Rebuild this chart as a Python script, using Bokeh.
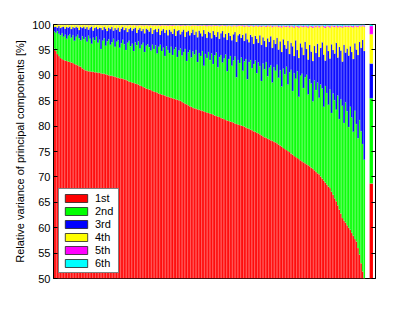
from bokeh.plotting import figure
from bokeh.models import Range1d, LinearAxis, FixedTicker, ColumnDataSource, Legend, LegendItem
from bokeh.embed import file_html
from bokeh.resources import INLINE
import numpy as np

# cumulative relative variance [%] after the 1st..5th principal component, per data set (sorted by 1st)
cum_1st = [95.3, 94.8, 94.2, 93.8, 93.4, 93.2, 93.0, 92.9, 92.8, 92.7,
           92.6, 92.5, 92.4, 92.2, 92.1, 92.0, 91.8, 91.7, 91.4, 91.2,
           91.0, 90.9, 90.8, 90.8, 90.7, 90.7, 90.6, 90.6, 90.5, 90.5,
           90.4, 90.3, 90.3, 90.2, 90.1, 90.0, 89.9, 89.9, 89.8, 89.7,
           89.6, 89.5, 89.4, 89.4, 89.3, 89.2, 89.1, 89.0, 88.8, 88.7,
           88.6, 88.5, 88.4, 88.3, 88.2, 88.0, 87.9, 87.7, 87.6, 87.4,
           87.3, 87.2, 87.1, 86.9, 86.8, 86.7, 86.6, 86.4, 86.3, 86.2,
           86.1, 86.0, 85.9, 85.8, 85.7, 85.6, 85.5, 85.4, 85.3, 85.2,
           85.1, 85.0, 84.8, 84.6, 84.4, 84.3, 84.1, 83.9, 83.8, 83.6,
           83.5, 83.4, 83.3, 83.2, 83.1, 83.0, 82.9, 82.8, 82.7, 82.6,
           82.5, 82.4, 82.3, 82.1, 82.0, 81.9, 81.8, 81.6, 81.5, 81.4,
           81.2, 81.1, 81.0, 80.9, 80.8, 80.7, 80.5, 80.4, 80.3, 80.2,
           80.1, 80.0, 79.9, 79.7, 79.6, 79.5, 79.3, 79.2, 79.0, 78.9,
           78.7, 78.6, 78.4, 78.2, 78.0, 77.8, 77.7, 77.5, 77.4, 77.2,
           77.1, 76.9, 76.8, 76.6, 76.4, 76.2, 76.0, 75.7, 75.5, 75.3,
           75.1, 74.9, 74.6, 74.4, 74.1, 73.9, 73.7, 73.5, 73.3, 73.1,
           72.9, 72.7, 72.5, 72.3, 72.1, 71.8, 71.6, 71.3, 71.0, 70.7,
           70.5, 70.1, 69.7, 69.3, 68.9, 68.5, 68.1, 67.8, 67.1, 66.5,
           65.8, 65.2, 64.4, 63.6, 62.8, 61.9, 61.4, 61.0, 60.5, 60.0,
           59.6, 59.0, 58.4, 57.8, 57.3, 56.0, 54.7, 53.0, 51.4, 49.5]

cum_2nd = [98.6, 98.4, 98.7, 98.2, 97.9, 98.3, 97.6, 98.0, 97.2, 97.8,
           98.1, 97.4, 97.9, 96.8, 97.6, 98.0, 97.3, 96.9, 97.7, 97.1,
           97.5, 96.6, 97.8, 97.2, 96.2, 97.4, 96.9, 97.6, 96.4, 97.0,
           95.2, 96.8, 97.3, 95.8, 96.7, 97.1, 96.0, 96.5, 97.2, 95.6,
           96.6, 96.9, 95.4, 96.3, 97.0, 96.1, 95.0, 96.4, 96.8, 95.7,
           96.2, 94.8, 96.5, 95.9, 96.7, 95.3, 96.0, 96.4, 94.6, 95.8,
           96.1, 95.5, 94.9, 96.0, 95.2, 95.9, 94.3, 95.6, 96.0, 94.8,
           95.4, 93.8, 95.7, 95.0, 94.4, 95.6, 94.0, 95.1, 95.5, 93.6,
           94.9, 95.3, 93.9, 94.6, 95.2, 92.8, 94.5, 95.0, 93.5, 94.7,
           94.1, 95.0, 92.6, 94.4, 93.8, 94.8, 91.9, 94.2, 93.4, 94.6,
           93.0, 94.3, 92.2, 93.9, 94.5, 91.6, 93.6, 94.0, 92.5, 93.3,
           94.1, 90.8, 93.2, 93.8, 91.9, 92.9, 93.7, 89.6, 93.0, 92.4,
           93.5, 90.9, 92.7, 93.2, 89.2, 92.6, 93.0, 91.4, 92.2, 92.9,
           90.4, 92.5, 91.8, 88.9, 92.3, 91.2, 92.6, 89.8, 91.5, 92.0,
           88.6, 91.6, 90.9, 92.1, 89.5, 91.0, 87.8, 91.3, 90.2, 91.7,
           88.2, 90.6, 91.1, 86.9, 90.4, 89.3, 90.8, 85.8, 89.9, 90.3,
           87.5, 89.6, 90.1, 86.2, 89.2, 88.4, 84.9, 89.0, 87.1, 88.6,
           85.6, 88.2, 87.4, 83.8, 87.9, 86.5, 84.2, 87.2, 82.6, 86.4,
           85.1, 83.2, 86.0, 81.4, 85.3, 84.0, 80.6, 84.7, 82.9, 79.8,
           83.8, 81.7, 78.9, 83.0, 80.4, 77.6, 81.2, 79.0, 76.5, 73.4]

cum_3rd = [99.5, 99.6, 99.4, 99.7, 99.3, 99.5, 99.6, 99.2, 99.5, 99.4,
           99.6, 99.1, 99.5, 99.3, 99.6, 99.4, 98.9, 99.5, 99.3, 99.6,
           99.2, 99.5, 99.0, 99.4, 99.6, 98.8, 99.3, 99.5, 99.1, 99.4,
           99.3, 98.9, 99.5, 99.2, 98.7, 99.4, 99.1, 99.5, 98.8, 99.3,
           99.0, 99.4, 98.6, 99.2, 99.5, 98.9, 99.3, 98.5, 99.1, 99.4,
           98.8, 99.2, 99.4, 98.4, 99.0, 99.3, 98.7, 99.1, 98.3, 99.2,
           99.0, 98.6, 99.3, 98.2, 98.9, 99.1, 98.5, 99.2, 98.0, 98.8,
           99.1, 98.4, 98.9, 97.9, 99.0, 98.6, 98.2, 99.1, 97.8, 98.7,
           98.9, 98.1, 98.6, 99.0, 97.6, 98.5, 98.8, 97.9, 98.4, 99.0,
           98.0, 98.6, 97.5, 98.8, 98.3, 97.7, 98.9, 98.2, 97.4, 98.6,
           98.4, 97.3, 98.7, 98.0, 97.6, 98.5, 97.2, 98.3, 98.7, 97.5,
           98.2, 97.0, 98.4, 97.8, 96.9, 98.1, 98.5, 96.6, 97.9, 98.2,
           97.4, 98.0, 96.8, 98.3, 97.1, 96.5, 98.0, 97.6, 96.2, 97.8,
           97.2, 96.4, 97.9, 96.0, 97.5, 96.8, 95.6, 97.3, 96.6, 97.7,
           95.4, 97.0, 96.2, 97.4, 95.1, 96.7, 94.6, 97.1, 96.0, 95.3,
           96.8, 94.2, 96.4, 95.7, 93.8, 96.9, 95.0, 93.4, 96.3, 95.5,
           94.0, 96.6, 95.2, 93.1, 96.0, 94.7, 92.8, 95.8, 94.4, 96.2,
           93.6, 95.4, 96.5, 94.1, 92.9, 95.9, 94.8, 93.3, 96.1, 95.0,
           94.3, 96.4, 93.5, 95.6, 94.9, 92.7, 96.0, 94.5, 95.3, 93.9,
           95.7, 94.6, 93.2, 96.3, 95.1, 94.0, 96.6, 95.4, 97.0, 94.8]

cum_4th = [99.93, 99.92, 99.94, 99.93, 99.91, 99.94, 99.92, 99.90, 99.93, 99.92,
           99.92, 99.89, 99.93, 99.91, 99.92, 99.90, 99.87, 99.92, 99.90, 99.93,
           99.89, 99.92, 99.86, 99.90, 99.92, 99.85, 99.90, 99.92, 99.88, 99.90,
           99.89, 99.85, 99.92, 99.88, 99.84, 99.90, 99.88, 99.92, 99.85, 99.89,
           99.88, 99.91, 99.83, 99.88, 99.90, 99.85, 99.89, 99.82, 99.88, 99.90,
           99.85, 99.89, 99.87, 99.80, 99.87, 99.89, 99.83, 99.87, 99.79, 99.88,
           99.87, 99.82, 99.88, 99.78, 99.84, 99.87, 99.80, 99.88, 99.76, 99.84,
           99.86, 99.79, 99.85, 99.75, 99.86, 99.82, 99.77, 99.86, 99.74, 99.83,
           99.83, 99.77, 99.82, 99.86, 99.72, 99.81, 99.83, 99.74, 99.80, 99.85,
           99.78, 99.84, 99.70, 99.82, 99.80, 99.72, 99.84, 99.77, 99.68, 99.81,
           99.80, 99.67, 99.83, 99.75, 99.70, 99.81, 99.66, 99.77, 99.83, 99.70,
           99.77, 99.64, 99.81, 99.73, 99.62, 99.79, 99.81, 99.60, 99.75, 99.79,
           99.71, 99.77, 99.58, 99.79, 99.68, 99.56, 99.76, 99.72, 99.54, 99.75,
           99.69, 99.55, 99.77, 99.52, 99.72, 99.65, 99.50, 99.75, 99.63, 99.76,
           99.48, 99.70, 99.60, 99.74, 99.46, 99.66, 99.42, 99.72, 99.58, 99.52,
           99.70, 99.40, 99.65, 99.55, 99.38, 99.70, 99.52, 99.36, 99.68, 99.58,
           99.44, 99.68, 99.56, 99.35, 99.66, 99.50, 99.32, 99.64, 99.48, 99.70,
           99.40, 99.63, 99.72, 99.46, 99.30, 99.67, 99.54, 99.38, 99.70, 99.56,
           99.48, 99.70, 99.42, 99.62, 99.50, 99.34, 99.68, 99.52, 99.60, 99.44,
           99.65, 99.50, 99.40, 99.70, 99.58, 99.45, 99.72, 99.60, 99.75, 99.55]

cum_5th = [99.98, 99.97, 99.98, 99.98, 99.96, 99.98, 99.97, 99.95, 99.98, 99.97,
           99.97, 99.95, 99.98, 99.96, 99.97, 99.96, 99.94, 99.97, 99.96, 99.98,
           99.95, 99.97, 99.93, 99.96, 99.97, 99.92, 99.96, 99.97, 99.94, 99.96,
           99.95, 99.92, 99.97, 99.94, 99.91, 99.96, 99.94, 99.97, 99.92, 99.95,
           99.94, 99.96, 99.90, 99.94, 99.95, 99.92, 99.95, 99.89, 99.94, 99.95,
           99.94, 99.96, 99.95, 99.92, 99.95, 99.96, 99.93, 99.95, 99.91, 99.96,
           99.95, 99.92, 99.96, 99.90, 99.93, 99.95, 99.91, 99.96, 99.89, 99.93,
           99.94, 99.90, 99.93, 99.88, 99.94, 99.92, 99.89, 99.94, 99.87, 99.92,
           99.92, 99.89, 99.91, 99.94, 99.86, 99.91, 99.92, 99.87, 99.90, 99.93,
           99.89, 99.92, 99.85, 99.91, 99.90, 99.86, 99.92, 99.89, 99.84, 99.91,
           99.90, 99.83, 99.92, 99.88, 99.85, 99.91, 99.82, 99.89, 99.92, 99.85,
           99.89, 99.81, 99.91, 99.87, 99.80, 99.90, 99.91, 99.79, 99.88, 99.90,
           99.86, 99.89, 99.78, 99.90, 99.84, 99.77, 99.89, 99.86, 99.76, 99.88,
           99.85, 99.77, 99.89, 99.75, 99.86, 99.82, 99.74, 99.88, 99.81, 99.89,
           99.73, 99.86, 99.80, 99.88, 99.72, 99.83, 99.70, 99.87, 99.79, 99.76,
           99.86, 99.69, 99.83, 99.78, 99.68, 99.86, 99.77, 99.67, 99.85, 99.80,
           99.71, 99.85, 99.79, 99.66, 99.84, 99.76, 99.65, 99.83, 99.75, 99.86,
           99.70, 99.82, 99.87, 99.74, 99.64, 99.84, 99.78, 99.69, 99.86, 99.79,
           99.75, 99.86, 99.72, 99.81, 99.76, 99.67, 99.85, 99.77, 99.80, 99.73,
           99.83, 99.77, 99.71, 99.86, 99.80, 99.74, 99.87, 99.81, 99.88, 99.78]

# separate summary bar at the right (cumulative, 1st..5th; 6th fills to 100)
summary_cum = [68.7, 85.5, 92.3, 98.1, 99.7]
summary_x = 204.5

labels = ["1st", "2nd", "3rd", "4th", "5th", "6th"]
colors = ["#ff0000", "#00ff00", "#0000ff", "#ffff00", "#ff00ff", "#00ffff"]
yticks = [50, 55, 60, 65, 70, 75, 80, 85, 90, 95, 100]

n = len(cum_1st)
idx = np.arange(1, n + 1)
cums = [np.array(c) for c in (cum_1st, cum_2nd, cum_3rd, cum_4th, cum_5th)] + [np.full(n, 100.0)]
scum = list(summary_cum) + [100.0]

FONT = "Liberation Sans"

p = figure(width=415, height=313, output_backend="svg", toolbar_location=None,
           x_range=Range1d(0.5, 207.2), y_range=Range1d(50, 100),
           x_axis_location=None,
           min_border_left=53, min_border_right=40, min_border_top=24, min_border_bottom=35)
p.xgrid.visible = False
p.ygrid.visible = False
p.outline_line_color = "black"
p.outline_line_width = 1
p.background_fill_color = "white"
p.border_fill_color = "white"

for k in range(6):
    bottom = np.zeros(n) if k == 0 else cums[k - 1]
    src = ColumnDataSource(data=dict(x=idx, b=bottom, t=cums[k]))
    p.vbar(x="x", width=1.0, bottom="b", top="t", source=src,
           fill_color=colors[k], line_color="white", line_alpha=0.22, line_width=0.5)
    sb = 0.0 if k == 0 else scum[k - 1]
    ssrc = ColumnDataSource(data=dict(x=[summary_x], b=[sb], t=[scum[k]]))
    p.vbar(x="x", width=2.2, bottom="b", top="t", source=ssrc,
           fill_color=colors[k], line_color="white", line_alpha=0.22, line_width=0.5)

# legend swatches (one zero-height bar each, outside the visible x range)
items = []
for k in range(6):
    r = p.vbar(x="x", top="t", bottom="b", width=1,
               source=ColumnDataSource(data=dict(x=[-100], t=[0], b=[0])),
               fill_color=colors[k], line_color="#222222", line_width=0.8)
    items.append(LegendItem(label=labels[k], renderers=[r]))
legend = Legend(items=items, location="bottom_left", margin=5, padding=3, spacing=1,
                glyph_width=28, glyph_height=10, label_height=10, label_standoff=5,
                label_text_font=FONT, label_text_font_size="11px", label_text_color="black",
                border_line_color="black", border_line_width=1, background_fill_alpha=1.0)
p.add_layout(legend)

ax = p.yaxis[0]
ax.ticker = FixedTicker(ticks=yticks)
ax.major_tick_in = 4
ax.major_tick_out = 0
ax.minor_tick_in = 0
ax.minor_tick_out = 0
ax.major_label_standoff = 3
ax.major_label_text_font = FONT
ax.major_label_text_font_size = "11px"
ax.major_label_text_color = "black"
ax.axis_label = "Relative variance of principal components [%]"
ax.axis_label_text_font = FONT
ax.axis_label_text_font_size = "11px"
ax.axis_label_text_font_style = "normal"
ax.axis_label_text_color = "black"
ax.axis_label_standoff = 3
ax.axis_line_color = "black"
ax.major_tick_line_color = "black"

rax = LinearAxis(ticker=FixedTicker(ticks=yticks),
                 major_label_overrides={t: "" for t in yticks},
                 major_tick_in=4, major_tick_out=0, minor_tick_in=0, minor_tick_out=0,
                 axis_line_color="black", major_tick_line_color="black", major_label_standoff=0)
p.add_layout(rax, "right")

open("out.html", "w").write(file_html(p, INLINE))
